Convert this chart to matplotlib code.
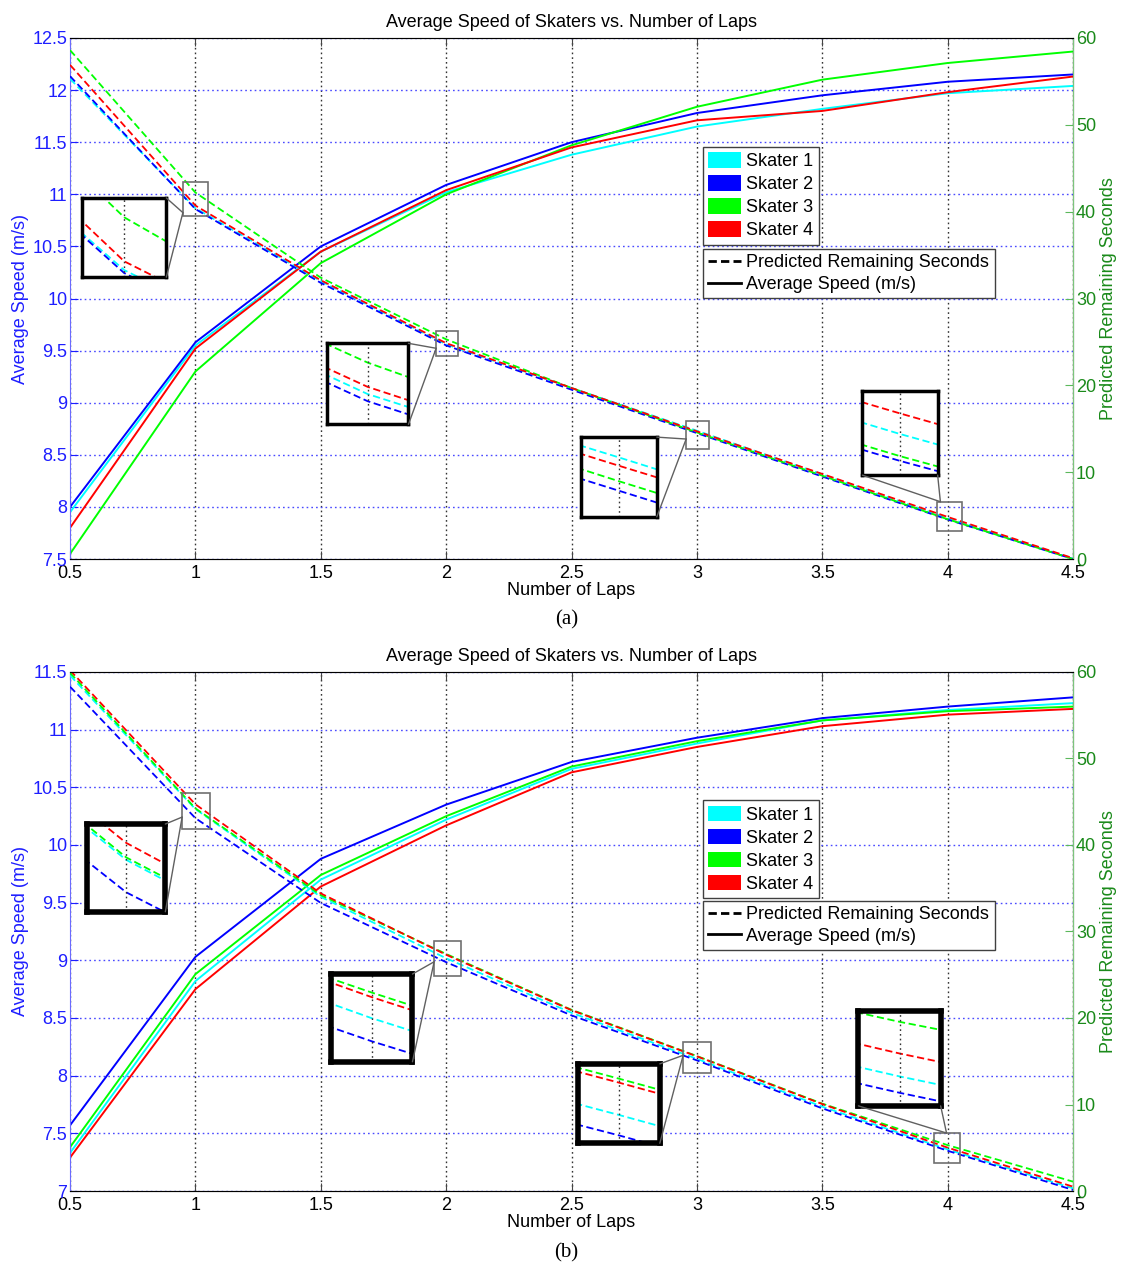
import matplotlib
matplotlib.use('Agg')
import matplotlib.pyplot as plt
from matplotlib.patches import Patch, Rectangle, ConnectionPatch
from matplotlib.lines import Line2D

plt.rcParams['font.family'] = ['Liberation Sans', 'DejaVu Sans']

# laps and labels
laps = [0.5, 1, 1.5, 2, 2.5, 3, 3.5, 4, 4.5]
lap_labels = ['0.5', '1', '1.5', '2', '2.5', '3', '3.5', '4', '4.5']
skaters = ['Skater 1', 'Skater 2', 'Skater 3', 'Skater 4']
colors = ['#00ffff', '#0000ff', '#00ff00', '#ff0000']

# (a) average speed, m/s
spd_a1 = [7.95, 9.55, 10.45, 11.02, 11.38, 11.65, 11.82, 11.97, 12.04]
spd_a2 = [8.00, 9.58, 10.50, 11.09, 11.50, 11.78, 11.95, 12.08, 12.15]
spd_a3 = [7.55, 9.30, 10.34, 11.00, 11.47, 11.84, 12.10, 12.26, 12.37]
spd_a4 = [7.80, 9.52, 10.45, 11.04, 11.45, 11.71, 11.80, 11.98, 12.13]
# (a) predicted remaining seconds
sec_a1 = [55.3, 40.4, 32.0, 24.73, 19.7, 14.78, 9.75, 4.72, 0.05]
sec_a2 = [55.6, 40.3, 31.8, 24.60, 19.5, 14.50, 9.50, 4.55, 0.0]
sec_a3 = [58.6, 42.2, 32.4, 25.30, 19.7, 14.58, 9.60, 4.58, 0.0]
sec_a4 = [56.9, 40.7, 32.1, 24.86, 19.7, 14.71, 9.80, 4.85, 0.1]

# (b) average speed, m/s
spd_b1 = [7.33, 8.82, 9.70, 10.22, 10.66, 10.88, 11.08, 11.17, 11.23]
spd_b2 = [7.57, 9.03, 9.88, 10.35, 10.72, 10.93, 11.10, 11.20, 11.28]
spd_b3 = [7.38, 8.88, 9.74, 10.25, 10.68, 10.90, 11.08, 11.16, 11.20]
spd_b4 = [7.29, 8.75, 9.64, 10.17, 10.63, 10.85, 11.03, 11.13, 11.18]
# (b) predicted remaining seconds
sec_b1 = [59.6, 44.15, 34.0, 26.90, 20.6, 15.28, 9.75, 4.80, 0.31]
sec_b2 = [58.3, 43.10, 33.3, 26.45, 20.3, 15.10, 9.55, 4.65, 0.12]
sec_b3 = [59.9, 44.23, 34.2, 27.40, 20.95, 15.60, 10.10, 5.30, 1.08]
sec_b4 = [60.2, 44.70, 34.4, 27.31, 20.9, 15.565, 10.05, 5.01, 0.5]

yticks_a = [7.5, 8, 8.5, 9, 9.5, 10, 10.5, 11, 11.5, 12, 12.5]
ylabels_a = ['7.5', '8', '8.5', '9', '9.5', '10', '10.5', '11', '11.5', '12', '12.5']
yticks_b = [7, 7.5, 8, 8.5, 9, 9.5, 10, 10.5, 11, 11.5]
ylabels_b = ['7', '7.5', '8', '8.5', '9', '9.5', '10', '10.5', '11', '11.5']
sec_ticks = [0, 10, 20, 30, 40, 50, 60]

BLUE = '#1e1eff'
GREEN = '#1a8a1a'
FS = 13

# zoom boxes: rect in data (x0, x1, y0, y1), inset pos, inset limits, corners, rect anchor
zooms_a = [
    ((0.95, 1.05, 39.5, 43.4), [0.012, 0.541, 0.084, 0.152], (0.958, 1.042, 40.16, 42.86),
     [(1, 1), (1, 0)], (0, 0.1)),
    ((1.96, 2.047, 23.4, 26.3), [0.256, 0.2585, 0.0814, 0.1555], (1.9765, 2.0235, 24.18, 25.65),
     [(1, 1), (1, 0)], (0, 0.3)),
    ((2.957, 3.049, 12.7, 15.9), [0.509, 0.081, 0.076, 0.153], (2.99, 3.01, 14.28, 14.95),
     [(1, 1), (1, 0)], (0, 0.35)),
    ((3.958, 4.057, 3.2, 6.6), [0.79, 0.161, 0.075, 0.161], (3.9929, 4.0071, 4.46, 4.99),
     [(0, 0), (1, 0)], (0.13, 1)),
]
zooms_b = [
    ((0.947, 1.058, 41.8, 46.0), [0.017, 0.538, 0.078, 0.169], (0.967, 1.033, 42.47, 45.31),
     [(1, 1), (1, 0)], (0, 0.34)),
    ((1.952, 2.059, 24.9, 28.9), [0.26, 0.249, 0.0814, 0.169], (1.98, 2.02, 26.05, 27.76),
     [(1, 1), (1, 0)], (0, 0.4)),
    ((2.945, 3.056, 13.6, 17.2), [0.506, 0.092, 0.082, 0.153], (2.991, 3.009, 15.03, 15.73),
     [(1, 1), (1, 0)], (0, 0.58)),
    ((3.945, 4.05, 3.2, 6.7), [0.786, 0.164, 0.082, 0.183], (3.9913, 4.0087, 4.53, 5.4),
     [(0, 0), (1, 0)], (0.48, 1)),
]

fig = plt.figure(figsize=(11.28, 12.79), dpi=100)


def panel(pos, speeds, secs, yticks, ylabels, zooms, leg1_y, leg2_y, inset_lw, tag, tag_y):
    ax = fig.add_axes(pos)
    for s, c in zip(speeds, colors):
        ax.plot(laps, s, color=c, lw=1.4)
    ax.set_xlim(0.5, 4.5)
    ax.set_ylim(yticks[0], yticks[-1])
    ax.set_xticks(laps)
    ax.set_xticklabels(lap_labels, fontsize=FS)
    ax.set_yticks(yticks)
    ax.set_yticklabels(ylabels, fontsize=FS, color=BLUE)
    ax.tick_params(axis='y', direction='in', colors=BLUE, labelcolor=BLUE, length=6,
                   right=True, pad=2)
    ax.tick_params(axis='x', direction='in', top=True, length=6, pad=4, color='#444444')
    ax.yaxis.grid(True, ls=(0, (1.2, 2.2)), color='#4a4aff', lw=1.0)
    ax.xaxis.grid(True, ls=(0, (1.2, 2.2)), color='#333333', lw=1.0)
    ax.spines['left'].set_color('#6a6aff')
    ax.spines['top'].set_color('#777777')
    ax.spines['bottom'].set_color('#555555')
    ax.set_xlabel('Number of Laps', fontsize=FS, labelpad=0)
    ax.set_ylabel('Average Speed (m/s)', fontsize=FS, color=BLUE, labelpad=2)
    ax.set_title('Average Speed of Skaters vs. Number of Laps', fontsize=FS, pad=8)

    ax2 = ax.twinx()
    for s, c in zip(secs, colors):
        ax2.plot(laps, s, color=c, lw=1.3, dashes=(4, 2))
    ax2.set_ylim(0, 60)
    ax2.set_xlim(0.5, 4.5)
    ax2.set_yticks(sec_ticks)
    ax2.set_yticklabels([str(t) for t in sec_ticks], fontsize=FS, color=GREEN)
    ax2.tick_params(axis='y', direction='in', colors='#5cb85c', labelcolor=GREEN,
                    length=6, pad=2)
    ax2.spines['right'].set_color('#7cc47c')
    ax2.spines['left'].set_visible(False)
    ax2.set_ylabel('Predicted Remaining Seconds', fontsize=FS, color=GREEN, labelpad=3)

    for (rx0, rx1, ry0, ry1), ipos, (ix0, ix1, iy0, iy1), corners, anchor in zooms:
        ax2.add_patch(Rectangle((rx0, ry0), rx1 - rx0, ry1 - ry0, fill=False,
                                ec='#707070', lw=1.2, zorder=6))
        ins = ax2.inset_axes(ipos)
        for s, c in zip(secs, colors):
            ins.plot(laps, s, color=c, lw=1.3, dashes=(4, 2))
        ins.axvline(0.5 * (ix0 + ix1), color='#333333', lw=1.0, ls=(0, (1.2, 2.2)))
        ins.set_xlim(ix0, ix1)
        ins.set_ylim(iy0, iy1)
        ins.set_xticks([])
        ins.set_yticks([])
        for sp in ins.spines.values():
            sp.set_linewidth(inset_lw)
            sp.set_color('black')
        px = rx0 + anchor[0] * (rx1 - rx0)
        py = ry0 + anchor[1] * (ry1 - ry0)
        for cxy in corners:
            con = ConnectionPatch(xyA=cxy, coordsA=ins.transAxes, xyB=(px, py),
                                  coordsB=ax2.transData, color='#606060', lw=1.0)
            fig.add_artist(con)

    h1 = [Patch(facecolor=c, edgecolor='none') for c in colors]
    leg1 = ax2.legend(h1, skaters, loc='upper left', bbox_to_anchor=(0.631, leg1_y),
                      borderaxespad=0, fontsize=FS, fancybox=False, framealpha=1,
                      edgecolor='#404040', handlelength=1.8, handleheight=0.95,
                      handletextpad=0.3, labelspacing=0.28, borderpad=0.3)
    leg1.get_frame().set_linewidth(1.0)
    ax2.add_artist(leg1)
    h2 = [Line2D([], [], color='black', lw=2, dashes=(3, 1.5)),
          Line2D([], [], color='black', lw=2)]
    leg2 = ax2.legend(h2, ['Predicted Remaining Seconds', 'Average Speed (m/s)'],
                      loc='upper left', bbox_to_anchor=(0.631, leg2_y), borderaxespad=0,
                      fontsize=FS, fancybox=False, framealpha=1, edgecolor='#404040',
                      handlelength=1.8, handletextpad=0.3, labelspacing=0.25,
                      borderpad=0.3)
    leg2.get_frame().set_linewidth(1.0)

    fig.text(0.502, tag_y, tag, fontsize=15, family=['Liberation Serif'],
             ha='center', va='center')


panel([0.0621, 0.5629, 0.8892, 0.4074], [spd_a1, spd_a2, spd_a3, spd_a4],
      [sec_a1, sec_a2, sec_a3, sec_a4], yticks_a, ylabels_a, zooms_a,
      0.791, 0.595, 2.5, '(a)', 1 - 620 / 1279)
panel([0.0621, 0.0688, 0.8892, 0.4058], [spd_b1, spd_b2, spd_b3, spd_b4],
      [sec_b1, sec_b2, sec_b3, sec_b4], yticks_b, ylabels_b, zooms_b,
      0.753, 0.559, 4.0, '(b)', 1 - 1253 / 1279)

fig.savefig('out.png', dpi=100, facecolor='white')
